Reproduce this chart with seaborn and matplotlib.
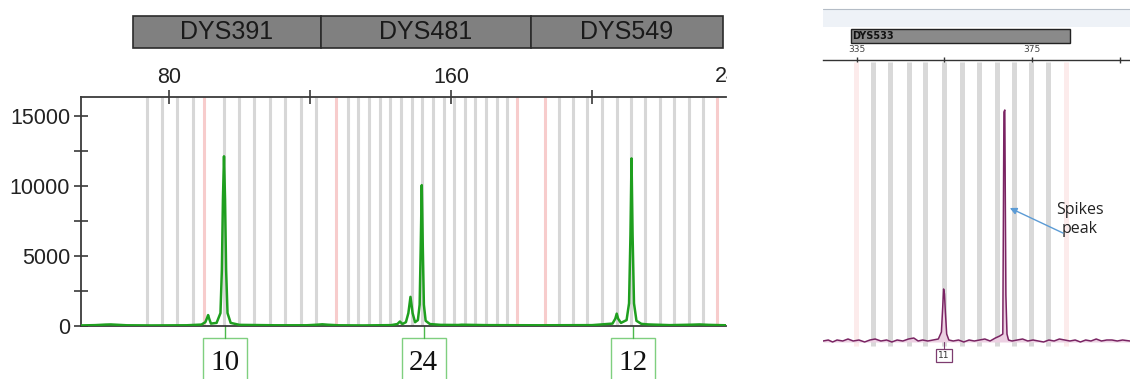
"""
Y-STR electropherogram panels: DYS391 / DYS481 / DYS549 (left) and DYS533 spike (right)
"""
import matplotlib
matplotlib.use("Agg")
import matplotlib.pyplot as plt
import matplotlib.transforms as mtransforms
from matplotlib.patches import Rectangle
from matplotlib.lines import Line2D
import seaborn as sns

W, H = 1130, 379

# ── Left panel data (size in bp, signal in RFU) ──────────────────────────────
loci = ["DYS391", "DYS481", "DYS549"]
locus_start = [69.8, 123.0, 182.6]
locus_end = [123.0, 182.6, 237.1]

bins_gray = [73.9, 78.0, 82.4, 86.7, 95.7, 99.9, 104.2, 108.6, 112.9, 117.4, 121.7,
             130.7, 133.7, 136.7, 139.8, 142.8, 145.8, 148.8, 151.8, 154.9, 157.9,
             160.9, 163.9, 166.9, 170.0, 173.0, 176.0,
             190.6, 194.7, 198.7, 202.8, 207.0, 211.0, 215.1, 219.3, 223.2, 227.5, 231.5]
bins_pink = [90.0, 127.3, 178.8, 186.6, 235.4]

allele_calls = ["10", "24", "12"]
allele_pos = [96.0, 152.2, 211.7]

trace_bp = [55, 59, 62, 63.5, 65, 68, 75, 85, 89.2, 90.3, 90.8, 91.1, 91.4, 91.9, 93.5,
            94.6, 95.0, 95.3, 95.6, 95.9, 96.2, 96.6, 97.5, 100, 110, 119, 122, 123.5,
            125, 128, 135, 143, 144.8, 145.5, 146.2, 147.2, 147.9, 148.5, 149.1, 149.8,
            150.6, 151.1, 151.4, 151.7, 152.0, 152.3, 152.8, 154, 157, 162, 163, 170,
            185, 200, 205.8, 206.6, 207.0, 207.4, 208.2, 209.8, 210.5, 210.9, 211.2,
            211.5, 211.9, 212.6, 214, 216, 222, 228, 230.5, 233, 238]
trace_rfu = [20, 40, 80, 90, 70, 30, 20, 30, 80, 250, 550, 760, 500, 150, 200,
             900, 4000, 9000, 12100, 9000, 4000, 900, 200, 60, 30, 30, 70, 100,
             70, 30, 20, 40, 120, 300, 120, 250, 900, 2060, 900, 250,
             400, 1500, 5500, 10040, 5500, 1500, 350, 120, 60, 50, 70, 40,
             30, 40, 150, 500, 860, 500, 200, 400, 1600, 6500, 11950,
             6500, 1600, 350, 130, 90, 40, 70, 90, 60, 30]

size_ticks = [80, 120, 160, 200, 240]
size_labels = ["80", "", "160", "", "240"]
rfu_ticks = [0, 5000, 10000, 15000]
rfu_minor = [2500, 7500, 12500]

# ── Right panel data ─────────────────────────────────────────────────────────
r_locus = "DYS533"
r_locus_span = [333.6, 383.6]
r_bins_gray = [338.8, 342.6, 346.8, 350.6, 354.9, 358.9, 362.9, 366.9, 370.8, 374.8, 378.6]
r_bins_pink = [334.8, 382.7]
r_size_ticks = [335, 355, 375, 395]
r_size_labels = ["335", "", "375", ""]
r_allele = "11"
r_allele_pos = 354.9

r_bp = [327.3, 328.5, 329.5, 330.5, 331.8, 333, 334.2, 335.5, 336.8, 338, 339.2, 340.5,
        341.8, 343, 344.2, 345.5, 346.8, 348, 349, 350, 351.2, 352.4, 353.6, 354.3,
        354.6, 354.8, 355.0, 355.2, 355.5, 356, 357, 358.2, 359.4, 360.6, 361.8, 363,
        364.2, 365.4, 366.6, 367.6, 368.3, 368.55, 368.75, 369.0, 369.25, 369.6, 370.4,
        371.6, 372.8, 374, 375.2, 376.4, 377.6, 378.8, 380, 381.2, 382.4, 383.6, 384.8,
        386, 387.2, 388.4, 389.6, 390.8, 392, 393.2, 394.4, 395.6, 397.3]
r_signal = [1, 2, 0, 2, 1, 3, 1, 2, 0, 2, 3, 1,
            2, 0, 2, 1, 3, 4, 1, 2, 1, 2, 3, 10,
            35, 53, 48, 30, 8, 2, 1, 2, 0, 2, 1, 2,
            3, 1, 4, 6, 8, 230, 232, 47, 8, 2, 1,
            2, 3, 1, 2, 1, 0, 2, 1, 3, 2, 1, 2,
            0, 2, 1, 3, 1, 2, 2, 1, 2, 1]

sns.set_theme(style="white")
plt.rcParams["font.family"] = ["Liberation Sans", "DejaVu Sans"]

fig = plt.figure(figsize=(W / 100, H / 100), dpi=100)


def rect(x0, y0, x1, y1):
    return [x0 / W, 1 - y1 / H, (x1 - x0) / W, (y1 - y0) / H]


def py(p):
    # pixel row -> inches from bottom
    return (H - p) / 100


# ── Left panel ───────────────────────────────────────────────────────────────
XMIN, XMAX = 55.04, 238.0
ax = fig.add_axes(rect(81, 97, 726, 325.7))
xt = ax.get_xaxis_transform()
ax.vlines(bins_gray, 0, 1, transform=xt, colors="#d7d7d7", lw=2.2, zorder=1)
ax.vlines(bins_pink, 0, 1, transform=xt, colors="#f7cccc", lw=2.2, zorder=1)
sns.lineplot(x=trace_bp, y=trace_rfu, ax=ax, color="#1f9f1f", lw=1.8,
             estimator=None, sort=False, zorder=3)

for side in ["top", "left", "bottom"]:
    ax.spines[side].set_color("#3a3a3a")
    ax.spines[side].set_linewidth(1.3)
ax.spines["right"].set_visible(False)
ax.spines["bottom"].set_zorder(2)

ax.xaxis.set_ticks_position("top")
ax.set_xticks(size_ticks, size_labels)
ax.set_xlim(XMIN, XMAX)
ax.tick_params(axis="x", direction="inout", length=9.5, width=1.2, pad=1.5,
               labelsize=15.5, color="#3a3a3a", labelcolor="#222222")
ax.set_yticks(rfu_ticks, [str(v) for v in rfu_ticks])
ax.set_yticks(rfu_minor, minor=True)
ax.set_ylim(0, 16336)
ax.tick_params(axis="y", which="both", direction="inout", length=9.5, width=1.2,
               pad=3, labelsize=15.5, color="#3a3a3a", labelcolor="#222222", left=True)

trans = mtransforms.blended_transform_factory(ax.transData, fig.dpi_scale_trans)

# size labels that fall past the right edge are cut off by the image border
for t, l in zip(size_ticks, size_labels):
    if t > XMAX and l:
        edge = ax.text(t, py(76), l, transform=trans, ha="center", va="center",
                       fontsize=15.5, color="#222222")
        edge.set_clip_box(mtransforms.Bbox([[0, 0], [727, H]]))
        edge.set_clip_on(True)

for name, s, e in zip(loci, locus_start, locus_end):
    ax.add_patch(Rectangle((s, py(48)), e - s, 0.32, transform=trans, clip_on=False,
                           fc="#808080", ec="#2b2b2b", lw=1.2))
    ax.text((s + e) / 2, py(32), name, transform=trans, ha="center", va="center",
            fontsize=18, color="#1a1a1a")

box_w = 44 / 3.525
for call, pos in zip(allele_calls, allele_pos):
    ax.plot([pos, pos], [py(325.7), py(337.7)], transform=trans, clip_on=False,
            color="#4cb84c", lw=1)
    ax.add_patch(Rectangle((pos - box_w / 2, py(382)), box_w, py(337.7) - py(382),
                           transform=trans, clip_on=False, fc="white", ec="#7fcf7f", lw=1))
    ax.text(pos, py(363), call, transform=trans, ha="center", va="center",
            fontsize=21, family=["Liberation Serif", "DejaVu Serif"], color="#111111")

# ── Right panel ──────────────────────────────────────────────────────────────
fig.add_artist(Rectangle((823 / W, 1 - 27 / H), 307 / W, 18 / H, transform=fig.transFigure,
                         fc="#eef2f7", ec="none"))
fig.add_artist(Line2D([823 / W, 1], [1 - 9 / H, 1 - 9 / H], transform=fig.transFigure,
                      color="#b4bcc6", lw=0.8))

ax2 = fig.add_axes(rect(823, 60, 1130, 372))
ax2.vlines(r_bins_gray, -4, 280, colors="#d9d9d9", lw=3.6, zorder=1)
ax2.vlines(r_bins_pink, -4, 280, colors="#fcebeb", lw=3.6, zorder=1)
ax2.fill_between(r_bp, 0, r_signal, color="#ecd0e2", lw=0, zorder=2)
sns.lineplot(x=r_bp, y=r_signal, ax=ax2, color="#7a2463", lw=1.1,
             estimator=None, sort=False, zorder=3)

for side in ["left", "right", "bottom"]:
    ax2.spines[side].set_visible(False)
ax2.spines["top"].set_color("#333333")
ax2.spines["top"].set_linewidth(1.0)
ax2.xaxis.set_ticks_position("top")
ax2.set_xticks(r_size_ticks, r_size_labels)
ax2.tick_params(axis="x", direction="inout", length=4, width=1, pad=2,
                labelsize=6.5, color="#333333", labelcolor="#444444")
for lbl in ax2.get_xticklabels():
    lbl.set_family(["DejaVu Sans"])
ax2.set_yticks([])
ax2.set_xlim(327.3, 397.3)
ax2.set_ylim(-30, 282)

trans2 = mtransforms.blended_transform_factory(ax2.transData, fig.dpi_scale_trans)
ax2.add_patch(Rectangle((r_locus_span[0], py(43)), r_locus_span[1] - r_locus_span[0], 0.14,
                        transform=trans2, clip_on=False, fc="#8a8a8a", ec="#222222", lw=1))
ax2.text(r_locus_span[0] + 0.3, py(36), r_locus, transform=trans2, ha="left", va="center",
         fontsize=7, fontweight="bold", family=["DejaVu Sans"], color="#111111")

ax2.plot([r_allele_pos, r_allele_pos], [0, -7], color="#7d3c6f", lw=0.8)
ax2.text(r_allele_pos, -13.5, r_allele, ha="center", va="center", fontsize=6.5,
         family=["DejaVu Sans"], color="#333333",
         bbox=dict(boxstyle="square,pad=0.25", fc="white", ec="#7d3c6f", lw=0.9))

ax2.text(385.9, 122.5, "Spikes\npeak", ha="center", va="center", fontsize=11.5,
         family=["Open Sans", "DejaVu Sans"], color="#222222", linespacing=1.25)
ax2.annotate("", xy=(369.9, 134), xytext=(382.0, 109),
             arrowprops=dict(arrowstyle="-|>", color="#5b9bd5", lw=1,
                             mutation_scale=10, shrinkA=0, shrinkB=0))

fig.savefig("out.png", dpi=100)
plt.close(fig)
